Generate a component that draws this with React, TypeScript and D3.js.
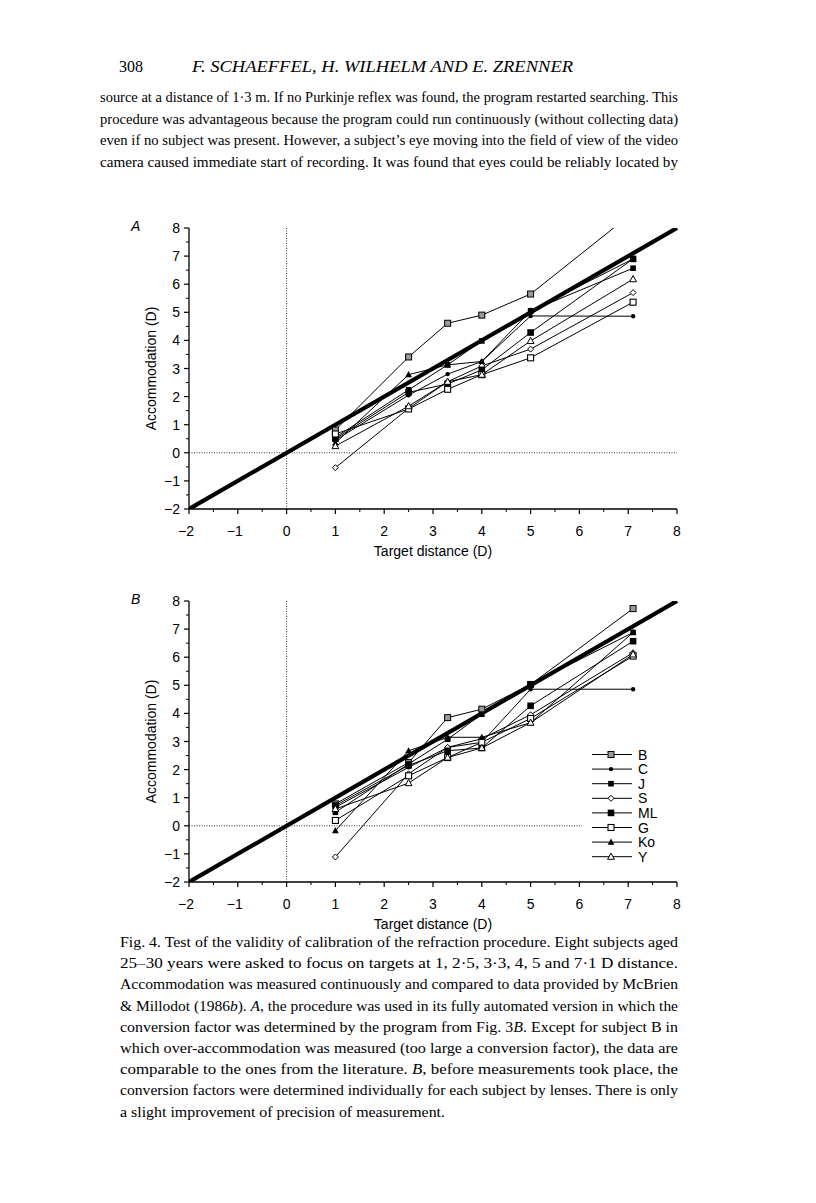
import * as d3 from "d3";

// target distances (D)
const targets = [1, 2.5, 3.3, 4, 5, 7.1];

const subjects = ["B", "C", "J", "S", "ML", "G", "Ko", "Y"];
const markerShapes = ["sqGrey", "dot", "sqSmall", "diamond", "sqFill", "sqOpen", "triFill", "triOpen"];

// panel A accommodation (D), one array per subject
const aB = [0.81, 3.41, 4.61, 4.9, 5.65, 8.55];
const aC = [0.45, 2.05, 2.8, 3.25, 4.87, 4.86];
const aJ = [0.55, 2.24, 3.13, 3.98, 5.05, 6.57];
const aS = [-0.53, 1.58, 2.53, 3.09, 3.69, 5.7];
const aML = [0.5, 2.15, 2.45, 2.95, 4.28, 6.9];
const aG = [0.67, 1.56, 2.26, 2.78, 3.38, 5.36];
const aKo = [0.35, 2.78, 3.13, 3.25, 5.05, 6.9];
const aY = [0.24, 1.66, 2.53, 2.78, 3.98, 6.18];

// panel B accommodation (D)
const bB = [0.78, 2.25, 3.85, 4.15, 5.03, 7.73];
const bC = [0.66, 2.08, 2.79, 2.97, 4.86, 4.86];
const bJ = [0.48, 2.2, 3.08, 3.97, 5.03, 6.88];
const bS = [-1.11, 1.85, 2.79, 3.1, 3.95, 6.16];
const bML = [0.72, 2.15, 2.67, 2.77, 4.27, 6.57];
const bG = [0.19, 1.78, 2.43, 2.97, 3.82, 6.04];
const bKo = [-0.17, 2.67, 3.15, 3.15, 3.67, 6.88];
const bY = [0.6, 1.52, 2.43, 2.77, 3.67, 6.1];

const seriesA = [aB, aC, aJ, aS, aML, aG, aKo, aY];
const seriesB = [bB, bC, bJ, bS, bML, bG, bKo, bY];

const axisTicks = [-2, -1, 0, 1, 2, 3, 4, 5, 6, 7, 8];

const paragraph = [
  "source at a distance of 1·3 m. If no Purkinje reflex was found, the program restarted searching. This",
  "procedure was advantageous because the program could run continuously (without collecting data)",
  "even if no subject was present. However, a subject’s eye moving into the field of view of the video",
  "camera caused immediate start of recording. It was found that eyes could be reliably located by",
];

// *...* marks italic runs
const caption = [
  "Fig. 4. Test of the validity of calibration of the refraction procedure. Eight subjects aged",
  "25–30 years were asked to focus on targets at 1, 2·5, 3·3, 4, 5 and 7·1 D distance.",
  "Accommodation was measured continuously and compared to data provided by McBrien",
  "& Millodot (1986*b*). *A*, the procedure was used in its fully automated version in which the",
  "conversion factor was determined by the program from Fig. 3*B*. Except for subject B in",
  "which over-accommodation was measured (too large a conversion factor), the data are",
  "comparable to the ones from the literature. *B*, before measurements took place, the",
  "conversion factors were determined individually for each subject by lenses. There is only",
  "a slight improvement of precision of measurement.",
];

const sans = "'Liberation Sans', Arial, sans-serif";
const serif = "'Liberation Serif', 'Times New Roman', serif";

const Marker = ({ shape, x, y }) => {
  switch (shape) {
    case "sqGrey":
      return <rect x={x - 3} y={y - 3} width={6} height={6} fill="#9a9a9a" stroke="#000" strokeWidth={1} />;
    case "dot":
      return <circle cx={x} cy={y} r={2.2} fill="#000" />;
    case "sqSmall":
      return <rect x={x - 2.8} y={y - 2.8} width={5.6} height={5.6} fill="#000" />;
    case "diamond":
      return <path d={`M${x},${y - 3}L${x + 3},${y}L${x},${y + 3}L${x - 3},${y}Z`} fill="#fff" stroke="#000" strokeWidth={1} />;
    case "sqFill":
      return <rect x={x - 3.3} y={y - 3.3} width={6.6} height={6.6} fill="#000" />;
    case "sqOpen":
      return <rect x={x - 3} y={y - 3} width={6} height={6} fill="#fff" stroke="#000" strokeWidth={1.1} />;
    case "triFill":
      return <path d={`M${x},${y - 3.6}L${x + 3.4},${y + 2.6}L${x - 3.4},${y + 2.6}Z`} fill="#000" />;
    default:
      return <path d={`M${x},${y - 3.6}L${x + 3.4},${y + 2.6}L${x - 3.4},${y + 2.6}Z`} fill="#fff" stroke="#000" strokeWidth={1} />;
  }
};

const fmt = (t) => (t < 0 ? `−${-t}` : `${t}`);

const Panel = ({ id, label, top, series, legend }) => {
  const x = d3.scaleLinear().domain([-2, 8]).range([189, 677]);
  const y = d3.scaleLinear().domain([-2, 8]).range([top + 281, top]);
  const line = d3
    .line()
    .x((d) => x(d[0]))
    .y((d) => y(d[1]));
  const minor = d3.range(-1.5, 8, 1);
  const zeroEnd = legend ? x(6.05) : x(8);

  return (
    <g>
      <defs>
        <clipPath id={id}>
          <rect x={x(-2)} y={y(8)} width={x(8) - x(-2) + 4} height={y(-2) - y(8)} />
        </clipPath>
      </defs>
      <text x={131} y={top + 3} fontFamily={sans} fontStyle="italic" fontSize={14}>
        {label}
      </text>

      {/* reference lines */}
      <line x1={x(0)} x2={x(0)} y1={y(8)} y2={y(-2)} stroke="#000" strokeWidth={0.8} strokeDasharray="1,1.5" />
      <line x1={x(-2)} x2={zeroEnd} y1={y(0)} y2={y(0)} stroke="#000" strokeWidth={0.8} strokeDasharray="1,1.5" />

      <g clipPath={`url(#${id})`}>
        <path d={line([[-2, -2], [8, 8]])} stroke="#000" strokeWidth={4.2} fill="none" />
        {series.map((vals, i) => (
          <path key={i} d={line(targets.map((t, j) => [t, vals[j]]))} stroke="#000" strokeWidth={1} fill="none" />
        ))}
        {series.map((vals, i) =>
          targets.map((t, j) => <Marker key={`${i}-${j}`} shape={markerShapes[i]} x={x(t)} y={y(vals[j])} />)
        )}
      </g>

      {/* axes */}
      <line x1={x(-2)} x2={x(-2)} y1={y(8)} y2={y(-2)} stroke="#000" strokeWidth={1.3} />
      <line x1={x(-2)} x2={x(8)} y1={y(-2)} y2={y(-2)} stroke="#000" strokeWidth={1.3} />
      {axisTicks.map((t) => (
        <g key={`t${t}`}>
          <line x1={x(-2) - 5} x2={x(-2)} y1={y(t)} y2={y(t)} stroke="#000" strokeWidth={1.2} />
          <line x1={x(t)} x2={x(t)} y1={y(-2)} y2={y(-2) + 5} stroke="#000" strokeWidth={1.2} />
          <text x={x(-2) - 9} y={y(t) + 5} textAnchor="end" fontFamily={sans} fontSize={14}>
            {fmt(t)}
          </text>
          <text x={t < 0 ? x(t) - 3 : x(t)} y={y(-2) + 27} textAnchor="middle" fontFamily={sans} fontSize={14}>
            {fmt(t)}
          </text>
        </g>
      ))}
      {minor.map((t) => (
        <g key={`m${t}`}>
          <line x1={x(-2) - 3} x2={x(-2)} y1={y(t)} y2={y(t)} stroke="#000" strokeWidth={1} />
          <line x1={x(t)} x2={x(t)} y1={y(-2)} y2={y(-2) + 3} stroke="#000" strokeWidth={1} />
        </g>
      ))}
      <text
        transform={`translate(156,${(y(8) + y(-2)) / 2}) rotate(-90)`}
        textAnchor="middle"
        fontFamily={sans}
        fontSize={14}
      >
        Accommodation (D)
      </text>
      <text x={x(3)} y={y(-2) + 47} textAnchor="middle" fontFamily={sans} fontSize={14}>
        Target distance (D)
      </text>

      {legend &&
        subjects.map((s, i) => {
          const ly = 754.5 + i * 14.6;
          return (
            <g key={s}>
              <line x1={592} x2={632} y1={ly} y2={ly} stroke="#000" strokeWidth={1} />
              <Marker shape={markerShapes[i]} x={611} y={ly} />
              <text x={638} y={ly + 5} fontFamily={sans} fontSize={14}>
                {s}
              </text>
            </g>
          );
        })}
    </g>
  );
};

const richText = (s) =>
  s.split("*").map((part, k) => (
    <tspan key={k} fontStyle={k % 2 === 1 ? "italic" : "normal"}>
      {part}
    </tspan>
  ));

export default function App() {
  return (
    <svg
      width={816}
      height={1203}
      style={{ position: "absolute", left: 0, top: 0, background: "#fff" }}
    >
      <rect width={816} height={1203} fill="#fff" />
      <text x={119} y={72} fontFamily={serif} fontSize={16}>
        308
      </text>
      <text x={192} y={72} fontFamily={serif} fontStyle="italic" fontSize={16} textLength={381} lengthAdjust="spacingAndGlyphs">
        F. SCHAEFFEL,  H. WILHELM  AND  E. ZRENNER
      </text>
      {paragraph.map((p, i) => (
        <text
          key={i}
          x={100}
          y={102 + i * 21.5}
          fontFamily={serif}
          fontSize={15}
          textLength={578}
          lengthAdjust="spacingAndGlyphs"
        >
          {p}
        </text>
      ))}

      <Panel id="clipA" label="A" top={228} series={seriesA} legend={false} />
      <Panel id="clipB" label="B" top={601} series={seriesB} legend={true} />

      {caption.map((c, i) => (
        <text
          key={i}
          x={120}
          y={947 + i * 21.2}
          fontFamily={serif}
          fontSize={15}
          textLength={i === caption.length - 1 ? 325 : 558}
          lengthAdjust="spacingAndGlyphs"
        >
          {richText(c)}
        </text>
      ))}
    </svg>
  );
}
